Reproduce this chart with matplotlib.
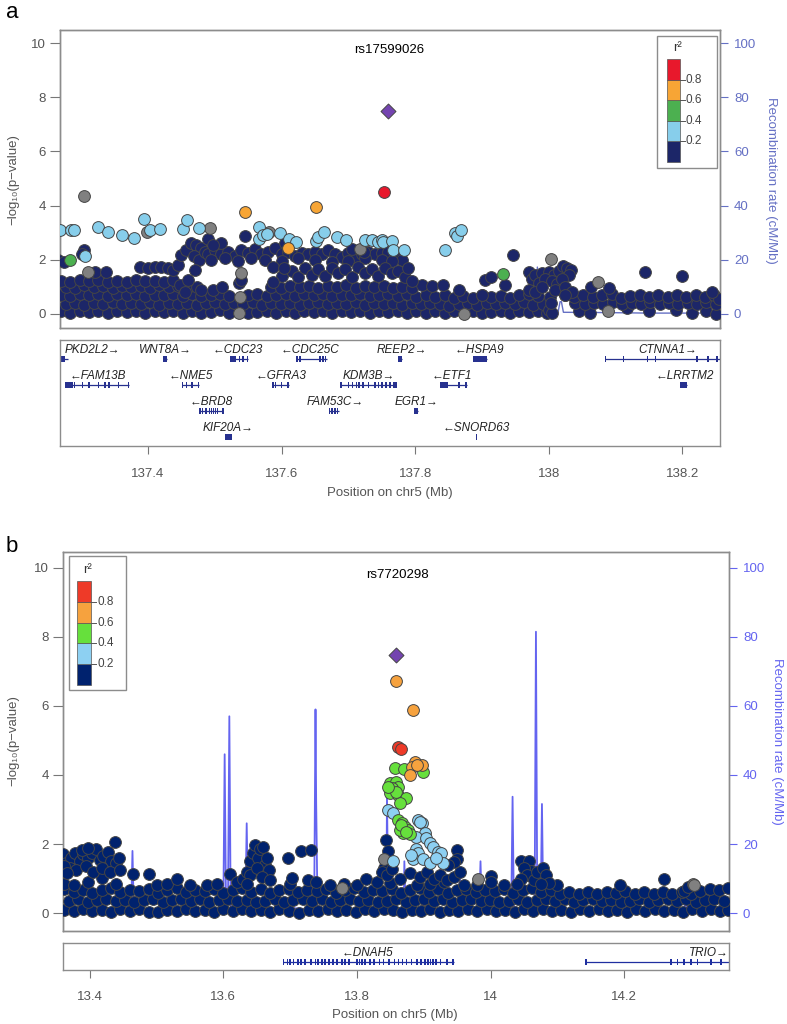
import matplotlib.pyplot as plt
from matplotlib.patches import Rectangle

plt.rcParams['font.family'] = ['Liberation Sans', 'DejaVu Sans']
plt.rcParams['font.size'] = 9.5

# ---------------- panel a : rs17599026 ----------------
a_title = 'rs17599026'
a_xlim = (137.2684, 138.2564)
a_ticks = [137.4, 137.6, 137.8, 138.0, 138.2]
a_ticklabels = ['137.4', '137.6', '137.8', '138', '138.2']

a_lead = [(137.760, 7.48)]
a_red = [(137.754, 4.51)]
a_orange = [(137.545, 3.76), (137.651, 3.94), (137.609, 2.45)]
a_green = [(137.284, 1.99), (137.931, 1.48)]
a_lblue = [(137.269, 3.10), (137.285, 3.10), (137.290, 3.08), (137.306, 2.12), (137.325, 3.22),
           (137.341, 3.01), (137.361, 2.92), (137.379, 2.79), (137.394, 3.50), (137.403, 3.10),
           (137.418, 3.12), (137.452, 3.12), (137.458, 3.47), (137.477, 3.16), (137.567, 3.19),
           (137.567, 2.76), (137.572, 2.90), (137.579, 2.95), (137.597, 2.98), (137.611, 2.76),
           (137.622, 2.64), (137.651, 2.69), (137.654, 2.83), (137.664, 3.01), (137.683, 2.83),
           (137.697, 2.71), (137.725, 2.73), (137.735, 2.73), (137.745, 2.67), (137.750, 2.73),
           (137.752, 2.67), (137.766, 2.69), (137.767, 2.36), (137.783, 2.36), (137.845, 2.36),
           (137.860, 2.98), (137.862, 2.88), (137.868, 3.08)]
a_grey = [(137.304, 4.36), (137.493, 3.16), (137.581, 3.04), (137.398, 3.02), (137.718, 2.39),
          (137.310, 1.53), (137.539, 1.50), (137.538, 0.64), (137.536, 0.02), (138.003, 2.02),
          (138.074, 1.19), (138.089, 0.10), (137.873, 0.00)]
a_navy = [
    (137.270, 0.10), (137.284, 0.05), (137.298, 0.12), (137.312, 0.06), (137.326, 0.10), (137.340, 0.04),
    (137.354, 0.12), (137.368, 0.07), (137.382, 0.10), (137.396, 0.05), (137.410, 0.12), (137.424, 0.06),
    (137.438, 0.09), (137.452, 0.04), (137.466, 0.11), (137.480, 0.02), (137.494, 0.08), (137.508, 0.13),
    (137.522, 0.05), (137.550, 0.03), (137.564, 0.08), (137.578, 0.12), (137.592, 0.05), (137.606, 0.10),
    (137.620, 0.04), (137.634, 0.12), (137.648, 0.06), (137.662, 0.09), (137.676, 0.03), (137.690, 0.11),
    (137.704, 0.06), (137.718, 0.10), (137.732, 0.04), (137.746, 0.12), (137.760, 0.07), (137.774, 0.10),
    (137.788, 0.03), (137.802, 0.09), (137.816, 0.05), (137.830, 0.12), (137.844, 0.04), (137.858, 0.10),
    (137.886, 0.11), (137.900, 0.03), (137.914, 0.08), (137.928, 0.12), (137.942, 0.05), (137.956, 0.10),
    (137.970, 0.06), (137.984, 0.11), (137.998, 0.04), (138.046, 0.12), (138.062, 0.05), (138.117, 0.20),
    (138.150, 0.12), (138.190, 0.15), (138.215, 0.02), (138.236, 0.10), (138.250, 0.00),
    (137.277, 0.38), (137.291, 0.42), (137.305, 0.33), (137.319, 0.40), (137.333, 0.36), (137.347, 0.44),
    (137.361, 0.35), (137.375, 0.41), (137.389, 0.37), (137.403, 0.43), (137.417, 0.34), (137.431, 0.40),
    (137.445, 0.36), (137.459, 0.42), (137.473, 0.33), (137.487, 0.39), (137.501, 0.44), (137.515, 0.35),
    (137.529, 0.41), (137.543, 0.37), (137.557, 0.43), (137.571, 0.34), (137.585, 0.40), (137.599, 0.36),
    (137.613, 0.42), (137.627, 0.33), (137.641, 0.39), (137.655, 0.44), (137.669, 0.35), (137.683, 0.41),
    (137.697, 0.37), (137.711, 0.43), (137.725, 0.34), (137.739, 0.40), (137.753, 0.36), (137.767, 0.42),
    (137.781, 0.33), (137.795, 0.39), (137.809, 0.35), (137.823, 0.41), (137.837, 0.37), (137.851, 0.30),
    (137.865, 0.36), (137.879, 0.42), (137.893, 0.33), (137.907, 0.39), (137.921, 0.35), (137.935, 0.41),
    (137.949, 0.37), (137.963, 0.43), (137.977, 0.32), (137.991, 0.38), (138.040, 0.40), (138.054, 0.35),
    (138.068, 0.42), (138.082, 0.38), (138.096, 0.44), (138.110, 0.36), (138.124, 0.41), (138.138, 0.37),
    (138.152, 0.43), (138.166, 0.35), (138.180, 0.40), (138.194, 0.36), (138.208, 0.42), (138.222, 0.38),
    (138.236, 0.44), (138.250, 0.37),
    (137.270, 0.70), (137.284, 0.66), (137.298, 0.74), (137.312, 0.68), (137.326, 0.72), (137.340, 0.65),
    (137.354, 0.75), (137.368, 0.69), (137.382, 0.73), (137.396, 0.66), (137.410, 0.71), (137.424, 0.68),
    (137.438, 0.74), (137.452, 0.67), (137.466, 0.72), (137.480, 0.65), (137.494, 0.70), (137.508, 0.74),
    (137.522, 0.66), (137.550, 0.68), (137.564, 0.73), (137.578, 0.65), (137.592, 0.70), (137.606, 0.74),
    (137.620, 0.67), (137.634, 0.72), (137.648, 0.69), (137.662, 0.74), (137.676, 0.66), (137.690, 0.71),
    (137.704, 0.68), (137.718, 0.73), (137.732, 0.65), (137.746, 0.70), (137.760, 0.74), (137.774, 0.67),
    (137.788, 0.72), (137.802, 0.64), (137.816, 0.70), (137.830, 0.62), (137.844, 0.68), (137.858, 0.60),
    (137.872, 0.66), (137.886, 0.58), (137.900, 0.70), (137.914, 0.63), (137.928, 0.67), (137.942, 0.60),
    (137.956, 0.69), (137.970, 0.72), (137.984, 0.66), (138.002, 0.62), (138.024, 0.70), (138.038, 0.64),
    (138.052, 0.70), (138.066, 0.62), (138.080, 0.68), (138.094, 0.72), (138.108, 0.60), (138.122, 0.66),
    (138.136, 0.70), (138.150, 0.63), (138.164, 0.68), (138.178, 0.61), (138.192, 0.70), (138.206, 0.64),
    (138.220, 0.69), (138.234, 0.62), (138.248, 0.68), (138.255, 0.55), (138.245, 0.80),
    (137.277, 1.00), (137.291, 0.96), (137.305, 1.05), (137.319, 0.98), (137.333, 1.03), (137.347, 0.95),
    (137.361, 1.04), (137.375, 0.99), (137.389, 1.02), (137.403, 0.96), (137.417, 1.05), (137.431, 0.98),
    (137.445, 1.02), (137.459, 0.95), (137.473, 1.00), (137.585, 1.00), (137.599, 0.96), (137.613, 1.04),
    (137.627, 0.98), (137.641, 1.02), (137.655, 0.95), (137.669, 1.03), (137.683, 0.99), (137.697, 1.05),
    (137.711, 0.96), (137.725, 1.02), (137.739, 0.98), (137.753, 1.04), (137.767, 0.96), (137.781, 1.01),
    (137.795, 0.97), (137.811, 1.08), (137.826, 1.03), (137.841, 1.08), (137.866, 0.90),
    (137.270, 1.22), (137.284, 1.18), (137.298, 1.25), (137.312, 1.20), (137.326, 1.24), (137.340, 1.17),
    (137.354, 1.23), (137.368, 1.19), (137.382, 1.25), (137.396, 1.20), (137.410, 1.22), (137.424, 1.18),
    (137.438, 1.25),
    (137.266, 2.00), (137.275, 1.92), (137.304, 2.36), (137.302, 2.22), (137.321, 1.56), (137.338, 1.56),
    (137.388, 1.75), (137.400, 1.69), (137.410, 1.72), (137.420, 1.75), (137.430, 1.70), (137.438, 1.62),
    (137.445, 1.81), (137.449, 2.18), (137.457, 2.36), (137.464, 2.60), (137.472, 2.55), (137.479, 2.42),
    (137.469, 2.12), (137.476, 1.99), (137.490, 2.76), (137.486, 2.30), (137.448, 1.07), (137.460, 1.25),
    (137.470, 1.62), (137.479, 0.89), (137.455, 0.82),
    (137.490, 2.20), (137.500, 2.35), (137.510, 2.20), (137.520, 2.30), (137.530, 2.15), (137.540, 2.35),
    (137.550, 2.25), (137.560, 2.40), (137.570, 2.20), (137.580, 2.30), (137.590, 2.45), (137.600, 2.20),
    (137.610, 2.30), (137.620, 2.15), (137.630, 2.25), (137.640, 2.20), (137.650, 2.30), (137.660, 2.20),
    (137.670, 2.35), (137.680, 2.20), (137.690, 2.10), (137.700, 2.25), (137.710, 2.10), (137.720, 2.20),
    (137.730, 2.30), (137.740, 2.20), (137.750, 2.25), (137.760, 2.30), (137.770, 2.10), (137.780, 2.00),
    (137.495, 2.00), (137.515, 2.05), (137.535, 1.95), (137.555, 2.05), (137.575, 2.00), (137.600, 1.95),
    (137.625, 2.05), (137.650, 2.00), (137.675, 1.90), (137.700, 1.95), (137.725, 2.05), (137.750, 2.00),
    (137.765, 1.95), (137.546, 2.88), (137.510, 2.60), (137.497, 2.55), (137.605, 2.60), (137.706, 2.40),
    (137.723, 2.30),
    (137.600, 1.40), (137.615, 1.60), (137.625, 1.35), (137.635, 1.70), (137.645, 1.45), (137.655, 1.65),
    (137.665, 1.40), (137.675, 1.70), (137.685, 1.50), (137.695, 1.65), (137.705, 1.35), (137.715, 1.75),
    (137.725, 1.50), (137.735, 1.65), (137.745, 1.40), (137.755, 1.70), (137.765, 1.50), (137.775, 1.60),
    (137.785, 1.35), (137.790, 1.70), (137.795, 1.20), (137.588, 1.75), (137.604, 1.69), (137.588, 1.19),
    (137.497, 0.89), (137.511, 1.00), (137.537, 1.13), (137.540, 1.25),
    (137.905, 1.25), (137.913, 1.35), (137.935, 1.05), (137.946, 2.18), (137.900, 0.70),
    (137.970, 1.56), (137.975, 1.30), (137.980, 1.45), (137.990, 1.50), (138.000, 1.55), (138.008, 1.45),
    (138.015, 1.60), (138.021, 1.77), (138.028, 1.70), (138.033, 1.62), (138.030, 1.45), (137.985, 1.15),
    (137.995, 1.30), (138.005, 1.20), (138.012, 1.10), (138.020, 1.30), (137.970, 0.90), (137.980, 0.80),
    (137.990, 1.00), (138.010, 0.90), (138.025, 1.00), (138.035, 0.80), (138.024, 0.70), (138.000, 0.15),
    (138.005, 0.05), (138.003, 0.40),
    (138.064, 1.00), (138.090, 0.95), (138.144, 1.53), (138.200, 1.41)]

a_rec_x = [137.268, 137.33, 137.40, 137.47, 137.55, 137.62, 137.70, 137.78, 137.86, 137.93, 137.978,
           137.981, 137.983, 137.985, 137.990, 138.014, 138.017, 138.019, 138.022, 138.08, 138.15, 138.256]
a_rec = [0.3, 0.2, 0.3, 0.2, 0.3, 0.2, 0.3, 0.2, 0.4, 0.5, 0.8, 3.0, 17.3, 2.5, 0.9, 0.7, 4.5, 4.5,
         0.6, 0.5, 0.3, 0.3]

# name, start, end, strand, row, label position
a_genes = [('PKD2L2', 137.270, 137.280, '+', 0, 137.317), ('WNT8A', 137.423, 137.429, '+', 0, 137.426),
           ('CDC23', 137.523, 137.550, '-', 0, 137.535), ('CDC25C', 137.622, 137.668, '-', 0, 137.643),
           ('REEP2', 137.774, 137.780, '+', 0, 137.780), ('HSPA9', 137.887, 137.907, '-', 0, 137.896),
           ('CTNNA1', 138.084, 138.258, '+', 0, 138.178), ('FAM13B', 137.276, 137.372, '-', 1, 137.325),
           ('NME5', 137.451, 137.477, '-', 1, 137.464), ('GFRA3', 137.586, 137.611, '-', 1, 137.599),
           ('KDM3B', 137.688, 137.772, '+', 1, 137.731), ('ETF1', 137.838, 137.877, '-', 1, 137.855),
           ('LRRTM2', 138.197, 138.207, '-', 1, 138.204), ('BRD8', 137.477, 137.513, '-', 2, 137.494),
           ('FAM53C', 137.671, 137.686, '+', 2, 137.680), ('EGR1', 137.798, 137.804, '+', 2, 137.802),
           ('KIF20A', 137.515, 137.524, '+', 3, 137.520), ('SNORD63', 137.892, 137.8925, '-', 3, 137.892)]
a_exons = {
    'PKD2L2': [137.271, 137.273, 137.275],
    'FAM13B': [137.277, 137.279, 137.281, 137.283, 137.286, 137.290, 137.302, 137.312, 137.326, 137.336,
               137.342, 137.356, 137.371],
    'WNT8A': [137.424, 137.426, 137.428],
    'NME5': [137.452, 137.458, 137.466, 137.476],
    'BRD8': [137.478, 137.482, 137.487, 137.492, 137.495, 137.498, 137.501, 137.504, 137.512],
    'KIF20A': [137.516, 137.518, 137.520, 137.522, 137.524],
    'CDC23': [137.524, 137.527, 137.530, 137.537, 137.542, 137.549],
    'GFRA3': [137.587, 137.591, 137.600, 137.610],
    'CDC25C': [137.623, 137.628, 137.658, 137.662, 137.666],
    'FAM53C': [137.672, 137.676, 137.680, 137.684],
    'KDM3B': [137.689, 137.700, 137.706, 137.712, 137.716, 137.722, 137.730, 137.740, 137.745, 137.750,
              137.756, 137.762, 137.768, 137.771],
    'REEP2': [137.775, 137.777, 137.779],
    'EGR1': [137.799, 137.801, 137.803],
    'ETF1': [137.839, 137.842, 137.845, 137.848, 137.866, 137.876],
    'HSPA9': [137.888, 137.891, 137.894, 137.897, 137.900, 137.903, 137.906],
    'SNORD63': [137.892],
    'CTNNA1': [138.085, 138.112, 138.148, 138.160, 138.222, 138.238, 138.252],
    'LRRTM2': [138.198, 138.201, 138.204, 138.206]}

# ---------------- panel b : rs7720298 ----------------
b_title = 'rs7720298'
b_xlim = (13.360, 14.357)
b_ticks = [13.4, 13.6, 13.8, 14.0, 14.2]
b_ticklabels = ['13.4', '13.6', '13.8', '14', '14.2']

b_lead = [(13.858, 7.48)]
b_red = [(13.862, 4.82), (13.866, 4.75)]
b_orange = [(13.858, 6.71), (13.884, 5.88), (13.887, 4.39), (13.897, 4.29), (13.882, 4.22),
            (13.879, 4.00), (13.890, 4.30)]
b_green = [(13.857, 4.19), (13.870, 4.16), (13.899, 4.10), (13.849, 3.76), (13.859, 3.81), (13.862, 3.66),
           (13.852, 3.61), (13.849, 3.47), (13.862, 3.42), (13.874, 3.32), (13.864, 3.18), (13.859, 3.52),
           (13.846, 3.66), (13.861, 2.70), (13.867, 2.60), (13.872, 2.50), (13.877, 2.41), (13.869, 2.31),
           (13.879, 2.29), (13.864, 2.41), (13.866, 2.55), (13.874, 2.36)]
b_lblue = [(13.847, 2.99), (13.854, 2.89), (13.892, 2.70), (13.897, 2.62), (13.902, 2.31), (13.889, 2.21),
           (13.894, 2.65), (13.904, 2.16), (13.909, 2.02), (13.914, 1.92), (13.921, 1.78), (13.926, 1.75),
           (13.929, 1.44), (13.889, 1.87), (13.891, 1.75), (13.884, 1.58), (13.899, 1.56), (13.909, 1.46),
           (13.854, 1.51), (13.881, 1.68), (13.918, 1.60)]
b_grey = [(13.841, 1.57), (13.982, 0.99), (13.778, 0.73), (14.303, 0.84), (14.305, 0.80)]
b_navy = [
    (13.362, 0.10), (13.376, 0.05), (13.390, 0.12), (13.404, 0.06), (13.418, 0.10), (13.432, 0.03),
    (13.446, 0.11), (13.460, 0.07), (13.474, 0.12), (13.488, 0.04), (13.502, 0.02), (13.516, 0.08),
    (13.530, 0.05), (13.544, 0.12), (13.558, 0.06), (13.572, 0.10), (13.586, 0.03), (13.600, 0.11),
    (13.614, 0.06), (13.628, 0.12), (13.642, 0.05), (13.656, 0.10), (13.670, 0.04), (13.684, 0.12),
    (13.698, 0.07), (13.714, 0.00), (13.728, 0.10), (13.742, 0.05), (13.756, 0.12), (13.770, 0.06),
    (13.784, 0.10), (13.798, 0.04), (13.812, 0.11), (13.826, 0.06), (13.840, 0.12), (13.854, 0.08),
    (13.868, 0.03), (13.882, 0.10), (13.896, 0.05), (13.910, 0.12), (13.924, 0.04), (13.938, 0.10),
    (13.952, 0.06), (13.966, 0.11), (13.980, 0.05), (13.994, 0.12), (14.008, 0.06), (14.022, 0.10),
    (14.036, 0.03), (14.050, 0.11), (14.064, 0.06), (14.078, 0.12), (14.092, 0.05), (14.106, 0.10),
    (14.120, 0.04), (14.134, 0.11), (14.148, 0.06), (14.162, 0.12), (14.176, 0.05), (14.190, 0.10),
    (14.204, 0.04), (14.218, 0.11), (14.232, 0.06), (14.246, 0.12), (14.260, 0.05), (14.274, 0.10),
    (14.288, 0.04), (14.302, 0.11), (14.316, 0.06), (14.330, 0.12), (14.344, 0.05), (14.356, 0.10),
    (13.369, 0.35), (13.383, 0.40), (13.397, 0.32), (13.411, 0.38), (13.425, 0.42), (13.439, 0.34),
    (13.453, 0.39), (13.467, 0.31), (13.481, 0.37), (13.495, 0.41), (13.509, 0.33), (13.523, 0.38),
    (13.537, 0.42), (13.551, 0.35), (13.565, 0.40), (13.579, 0.32), (13.593, 0.37), (13.607, 0.41),
    (13.621, 0.34), (13.635, 0.39), (13.649, 0.31), (13.663, 0.36), (13.677, 0.41), (13.691, 0.33),
    (13.705, 0.38), (13.719, 0.42), (13.733, 0.35), (13.747, 0.40), (13.761, 0.32), (13.775, 0.37),
    (13.789, 0.41), (13.803, 0.34), (13.817, 0.39), (13.831, 0.31), (13.845, 0.36), (13.859, 0.40),
    (13.873, 0.33), (13.887, 0.38), (13.901, 0.42), (13.915, 0.35), (13.929, 0.40), (13.943, 0.32),
    (13.957, 0.37), (13.971, 0.41), (13.985, 0.34), (13.999, 0.39), (14.013, 0.31), (14.027, 0.36),
    (14.041, 0.41), (14.055, 0.33), (14.069, 0.38), (14.083, 0.42), (14.097, 0.35), (14.111, 0.40),
    (14.125, 0.32), (14.139, 0.37), (14.153, 0.41), (14.167, 0.34), (14.181, 0.39), (14.195, 0.31),
    (14.209, 0.36), (14.223, 0.40), (14.237, 0.33), (14.251, 0.38), (14.265, 0.42), (14.279, 0.35),
    (14.293, 0.40), (14.307, 0.32), (14.321, 0.37), (14.335, 0.41), (14.349, 0.34),
    (13.362, 0.70), (13.376, 0.62), (13.390, 0.68), (13.404, 0.58), (13.418, 0.66), (13.432, 0.72),
    (13.446, 0.60), (13.460, 0.68), (13.474, 0.63), (13.488, 0.70), (13.502, 0.58), (13.516, 0.66),
    (13.530, 0.72), (13.544, 0.61), (13.558, 0.68), (13.572, 0.64), (13.586, 0.70), (13.600, 0.59),
    (13.614, 0.67), (13.628, 0.72), (13.642, 0.62), (13.656, 0.69), (13.670, 0.58), (13.684, 0.66),
    (13.698, 0.71), (13.712, 0.60), (13.726, 0.68), (13.740, 0.63), (13.754, 0.70), (13.768, 0.58),
    (13.782, 0.66), (13.796, 0.72), (13.810, 0.61), (13.824, 0.68), (13.838, 0.64), (13.852, 0.70),
    (13.866, 0.59), (13.880, 0.67), (13.894, 0.72), (13.908, 0.62), (13.922, 0.69), (13.936, 0.58),
    (13.950, 0.66), (13.964, 0.71), (13.978, 0.60), (13.992, 0.68), (14.006, 0.63), (14.020, 0.70),
    (14.034, 0.58), (14.048, 0.66), (14.062, 0.72), (14.076, 0.61), (14.090, 0.68), (14.104, 0.56),
    (14.118, 0.62), (14.132, 0.55), (14.146, 0.60), (14.160, 0.54), (14.174, 0.62), (14.188, 0.57),
    (14.202, 0.64), (14.216, 0.55), (14.230, 0.60), (14.244, 0.54), (14.258, 0.61), (14.272, 0.56),
    (14.286, 0.62), (14.300, 0.55), (14.314, 0.63), (14.328, 0.70), (14.342, 0.66), (14.356, 0.72),
    (13.362, 0.85), (13.376, 0.82), (13.397, 0.90), (13.418, 1.02), (13.440, 0.85), (13.465, 1.12),
    (13.488, 1.12), (13.500, 0.80), (13.515, 0.85), (13.531, 0.98), (13.550, 0.82), (13.575, 0.80),
    (13.590, 0.85), (13.610, 1.12), (13.620, 0.90), (13.700, 0.85), (13.703, 1.02), (13.727, 0.96),
    (13.739, 0.91), (13.760, 0.80), (13.780, 0.85), (13.800, 0.82), (13.814, 0.98), (13.830, 0.90),
    (13.850, 0.88), (13.890, 0.82), (13.910, 0.85), (13.930, 0.90), (13.960, 0.80), (13.980, 0.82),
    (14.020, 0.80), (14.100, 0.80), (14.194, 0.81), (14.260, 0.99), (14.290, 0.64), (14.295, 0.75),
    (13.360, 1.70), (13.365, 1.45), (13.372, 1.60), (13.378, 1.75), (13.385, 1.50), (13.390, 1.72),
    (13.397, 1.60), (13.403, 1.75), (13.410, 1.85), (13.415, 1.55), (13.420, 1.65), (13.427, 1.78),
    (13.432, 1.50), (13.438, 2.05), (13.440, 1.45), (13.444, 1.60), (13.370, 1.30), (13.380, 1.25),
    (13.395, 1.35), (13.405, 1.20), (13.418, 1.30), (13.430, 1.20), (13.445, 1.25), (13.362, 1.35),
    (13.366, 1.15), (13.388, 1.82), (13.398, 1.88),
    (13.630, 1.00), (13.635, 1.20), (13.640, 1.50), (13.645, 1.75), (13.647, 1.97), (13.652, 1.60),
    (13.655, 1.85), (13.660, 1.90), (13.662, 1.40), (13.665, 1.60), (13.668, 1.25), (13.640, 1.10),
    (13.650, 1.30), (13.658, 1.05), (13.670, 0.95), (13.636, 0.85),
    (13.697, 1.60), (13.717, 1.81), (13.731, 1.83), (13.843, 2.12), (13.846, 1.81), (13.840, 1.30),
    (13.838, 1.20), (13.845, 1.10), (13.852, 1.28), (13.880, 1.15), (13.895, 1.05), (13.905, 1.20),
    (13.915, 1.00), (13.925, 1.10), (13.935, 0.95), (13.945, 1.05), (13.955, 1.20), (13.865, 1.00),
    (13.950, 1.83), (13.950, 1.58), (13.945, 1.47), (13.936, 1.39), (14.001, 1.08), (14.001, 0.90),
    (14.046, 1.51), (14.058, 1.51), (14.061, 1.23), (14.050, 1.30), (14.055, 1.10), (14.045, 1.00),
    (14.065, 0.95), (14.070, 1.20), (14.078, 1.30), (14.083, 1.10), (14.087, 0.88), (14.075, 0.85),
    (14.040, 0.85)]

b_rec_x = [13.360, 13.400, 13.440, 13.462, 13.464, 13.466, 13.500, 13.550, 13.600, 13.602, 13.604,
           13.607, 13.609, 13.611, 13.620, 13.633, 13.635, 13.637, 13.660, 13.680, 13.700, 13.720,
           13.736, 13.738, 13.739, 13.741, 13.760, 13.800, 13.830, 13.844, 13.845, 13.847, 13.870,
           13.871, 13.873, 13.897, 13.898, 13.900, 13.952, 13.954, 13.956, 13.983, 13.985, 13.987,
           14.031, 14.033, 14.035, 14.066, 14.068, 14.070, 14.075, 14.077, 14.079, 14.120, 14.200,
           14.290, 14.292, 14.294, 14.357]
b_rec = [0.8, 0.6, 0.5, 0.6, 18.0, 0.6, 0.4, 0.6, 1.2, 46.0, 2.0, 2.5, 57.0, 2.0, 1.5, 1.5, 26.0, 1.5,
         2.0, 1.0, 1.5, 1.2, 1.5, 59.0, 32.0, 2.0, 0.8, 0.5, 1.0, 1.0, 34.0, 1.0, 0.8, 15.0, 0.8, 0.8,
         7.0, 0.8, 0.8, 11.0, 0.8, 0.8, 15.0, 0.8, 0.8, 33.7, 1.0, 1.0, 81.5, 1.0, 1.0, 31.6, 1.0, 0.5,
         0.3, 0.5, 7.5, 0.5, 0.4]

b_genes = [('DNAH5', 13.690, 13.945, '-', 0, 13.816), ('TRIO', 14.143, 14.361, '+', 0, 14.356)]
b_exons = {
    'DNAH5': [13.690, 13.696, 13.700, 13.705, 13.712, 13.716, 13.722, 13.731, 13.738, 13.742, 13.748,
              13.752, 13.758, 13.764, 13.770, 13.778, 13.782, 13.788, 13.800, 13.804, 13.808, 13.812,
              13.820, 13.826, 13.834, 13.840, 13.848, 13.856, 13.862, 13.868, 13.874, 13.882, 13.890,
              13.896, 13.902, 13.906, 13.910, 13.914, 13.918, 13.925, 13.935, 13.944],
    'TRIO': [14.143, 14.270, 14.280, 14.290, 14.300, 14.310, 14.330, 14.345]}

r2_labels = ['0.2', '0.4', '0.6', '0.8']

W, H = 787, 1024
fig = plt.figure(figsize=(W / 100, H / 100), dpi=100)


def box(l, t, r, b):
    return [l / W, 1 - b / H, (r - l) / W, (b - t) / H]


def scatter(ax, pts, color, marker='o', s=72, z=3):
    ax.scatter([p[0] for p in pts], [p[1] for p in pts], s=s, c=color, marker=marker,
               edgecolors='#454545', linewidths=0.7, zorder=z)


def main_panel(rect, xlim, ylim, navy, grey, lblue, green, orange, red, lead, rec_x, rec,
               cols, rec_col, rec_lw):
    ax = fig.add_axes(rect)
    ax2 = ax.twinx()
    ax.set_zorder(2)
    ax.patch.set_visible(False)
    ax2.plot(rec_x, rec, color=rec_col, lw=rec_lw)
    ax.set_xlim(*xlim)
    ax2.set_xlim(*xlim)
    ax.set_ylim(*ylim)
    ax2.set_ylim(ylim[0] * 10, ylim[1] * 10)
    scatter(ax, navy, cols[0])
    scatter(ax, grey, '#808080')
    scatter(ax, lblue, cols[1])
    scatter(ax, green, cols[2])
    scatter(ax, orange, cols[3])
    scatter(ax, red, cols[4])
    scatter(ax, lead, '#7444b0', marker='D', s=58, z=4)
    ax.set_xticks([])
    ax.set_yticks(range(0, 11, 2))
    ax2.set_yticks(range(0, 101, 20))
    ax.tick_params(axis='y', length=7, pad=3, color='#777777', labelcolor='#555555', labelsize=9.5)
    ax2.tick_params(axis='y', length=6, pad=4, color=rec_col, labelcolor=rec_col, labelsize=9.5)
    for a in (ax, ax2):
        for sp in a.spines.values():
            sp.set_color('#8c8c8c')
            sp.set_linewidth(1.0)
    return ax


def gene_panel(rect, xlim, ylim, genes, exons, ticks, ticklabels, gcol, pad):
    ax = fig.add_axes(rect)
    ax.set_xlim(*xlim)
    ax.set_ylim(*ylim)
    for name, start, end, strand, row, lx in genes:
        ax.plot([start, end], [row, row], color=gcol, lw=0.9, solid_capstyle='butt')
        for e in exons[name]:
            ax.add_patch(Rectangle((e - 0.0012, row - 0.13), 0.0024, 0.26, color=gcol, lw=0))
        label = name + '\u2192' if strand == '+' else '\u2190' + name
        ha = 'right' if lx >= xlim[1] - 0.002 else 'center'
        ax.text(lx, row - 0.34, label, ha=ha, va='center', style='italic', fontsize=8.5,
                color='#222222')
    ax.set_yticks([])
    ax.set_xticks(ticks)
    ax.set_xticklabels(ticklabels)
    ax.tick_params(axis='x', length=6, pad=pad, color='#777777', labelcolor='#555555', labelsize=9.5)
    for sp in ax.spines.values():
        sp.set_color('#8c8c8c')
        sp.set_linewidth(1.0)
    return ax


a_cols = ['#1c2668', '#87ceeb', '#4cb050', '#f7a535', '#e8182c']
b_cols = ['#00226e', '#8dd0f2', '#66e03c', '#f6a23e', '#ee3a28']

main_panel(box(60, 30, 720, 328), a_xlim, (-0.52, 10.48), a_navy, a_grey, a_lblue, a_green,
           a_orange, a_red, a_lead, a_rec_x, a_rec, a_cols, '#6570c4', 1.0)
gene_panel(box(60, 340, 720, 446), a_xlim, (3.35, -0.73), a_genes, a_exons, a_ticks,
           a_ticklabels, '#27318f', 10)
main_panel(box(63, 552, 729, 931), b_xlim, (-0.52, 10.46), b_navy, b_grey, b_lblue, b_green,
           b_orange, b_red, b_lead, b_rec_x, b_rec, b_cols, '#6464f0', 1.3)
gene_panel(box(63, 943, 729, 970), b_xlim, (0.31, -0.73), b_genes, b_exons, b_ticks,
           b_ticklabels, '#1f2fa0', 9)

# overlay in pixel coordinates for labels and r2 legends
ov = fig.add_axes([0, 0, 1, 1], zorder=10)
ov.set_xlim(0, W)
ov.set_ylim(H, 0)
ov.axis('off')
ov.patch.set_visible(False)


def r2_legend(frame, bar, cols):
    l, t, r, b = frame
    ov.add_patch(Rectangle((l, t), r - l, b - t, facecolor='white', edgecolor='#8c8c8c', lw=1.0))
    x0, x1, top, bot = bar
    h = (bot - top) / 5
    for i, c in enumerate(cols):
        ov.add_patch(Rectangle((x0, bot - (i + 1) * h), x1 - x0, h, facecolor=c,
                               edgecolor='#555555', lw=0.5))
    for i, lab in enumerate(r2_labels):
        y = bot - (i + 1) * h
        ov.plot([x1, x1 + 5], [y, y], color='#555555', lw=0.7)
        ov.text(x1 + 6, y, lab, ha='left', va='center', fontsize=8.5, color='#444444')
    ov.text((x0 + x1) / 2 + 4, top - 11, 'r\u00b2', ha='center', va='center', fontsize=9.5,
            color='#333333')


r2_legend((657, 36, 717, 168), (667, 680, 59, 162), a_cols)
r2_legend((69, 556, 126, 690), (77, 91, 581, 685), b_cols)

ov.text(6, 12, 'a', fontsize=16, ha='left', va='center')
ov.text(6, 546, 'b', fontsize=16, ha='left', va='center')
ov.text(389, 50, a_title, fontsize=9.5, ha='center', va='center')
ov.text(397, 575, b_title, fontsize=9.5, ha='center', va='center')
ylab = '\u2212log\u2081\u2080(p\u2212value)'
ov.text(13, 180, ylab, rotation=90, fontsize=9.5, ha='center', va='center', color='#555555')
ov.text(13, 741, ylab, rotation=90, fontsize=9.5, ha='center', va='center', color='#555555')
ov.text(771, 180, 'Recombination rate (cM/Mb)', rotation=270, fontsize=9.5, ha='center',
        va='center', color='#6570c4')
ov.text(777, 741, 'Recombination rate (cM/Mb)', rotation=270, fontsize=9.5, ha='center',
        va='center', color='#6464f0')
ov.text(390, 493, 'Position on chr5 (Mb)', fontsize=9.5, ha='center', va='center', color='#555555')
ov.text(395, 1015, 'Position on chr5 (Mb)', fontsize=9.5, ha='center', va='center', color='#555555')

fig.savefig('out.png', dpi=100)
